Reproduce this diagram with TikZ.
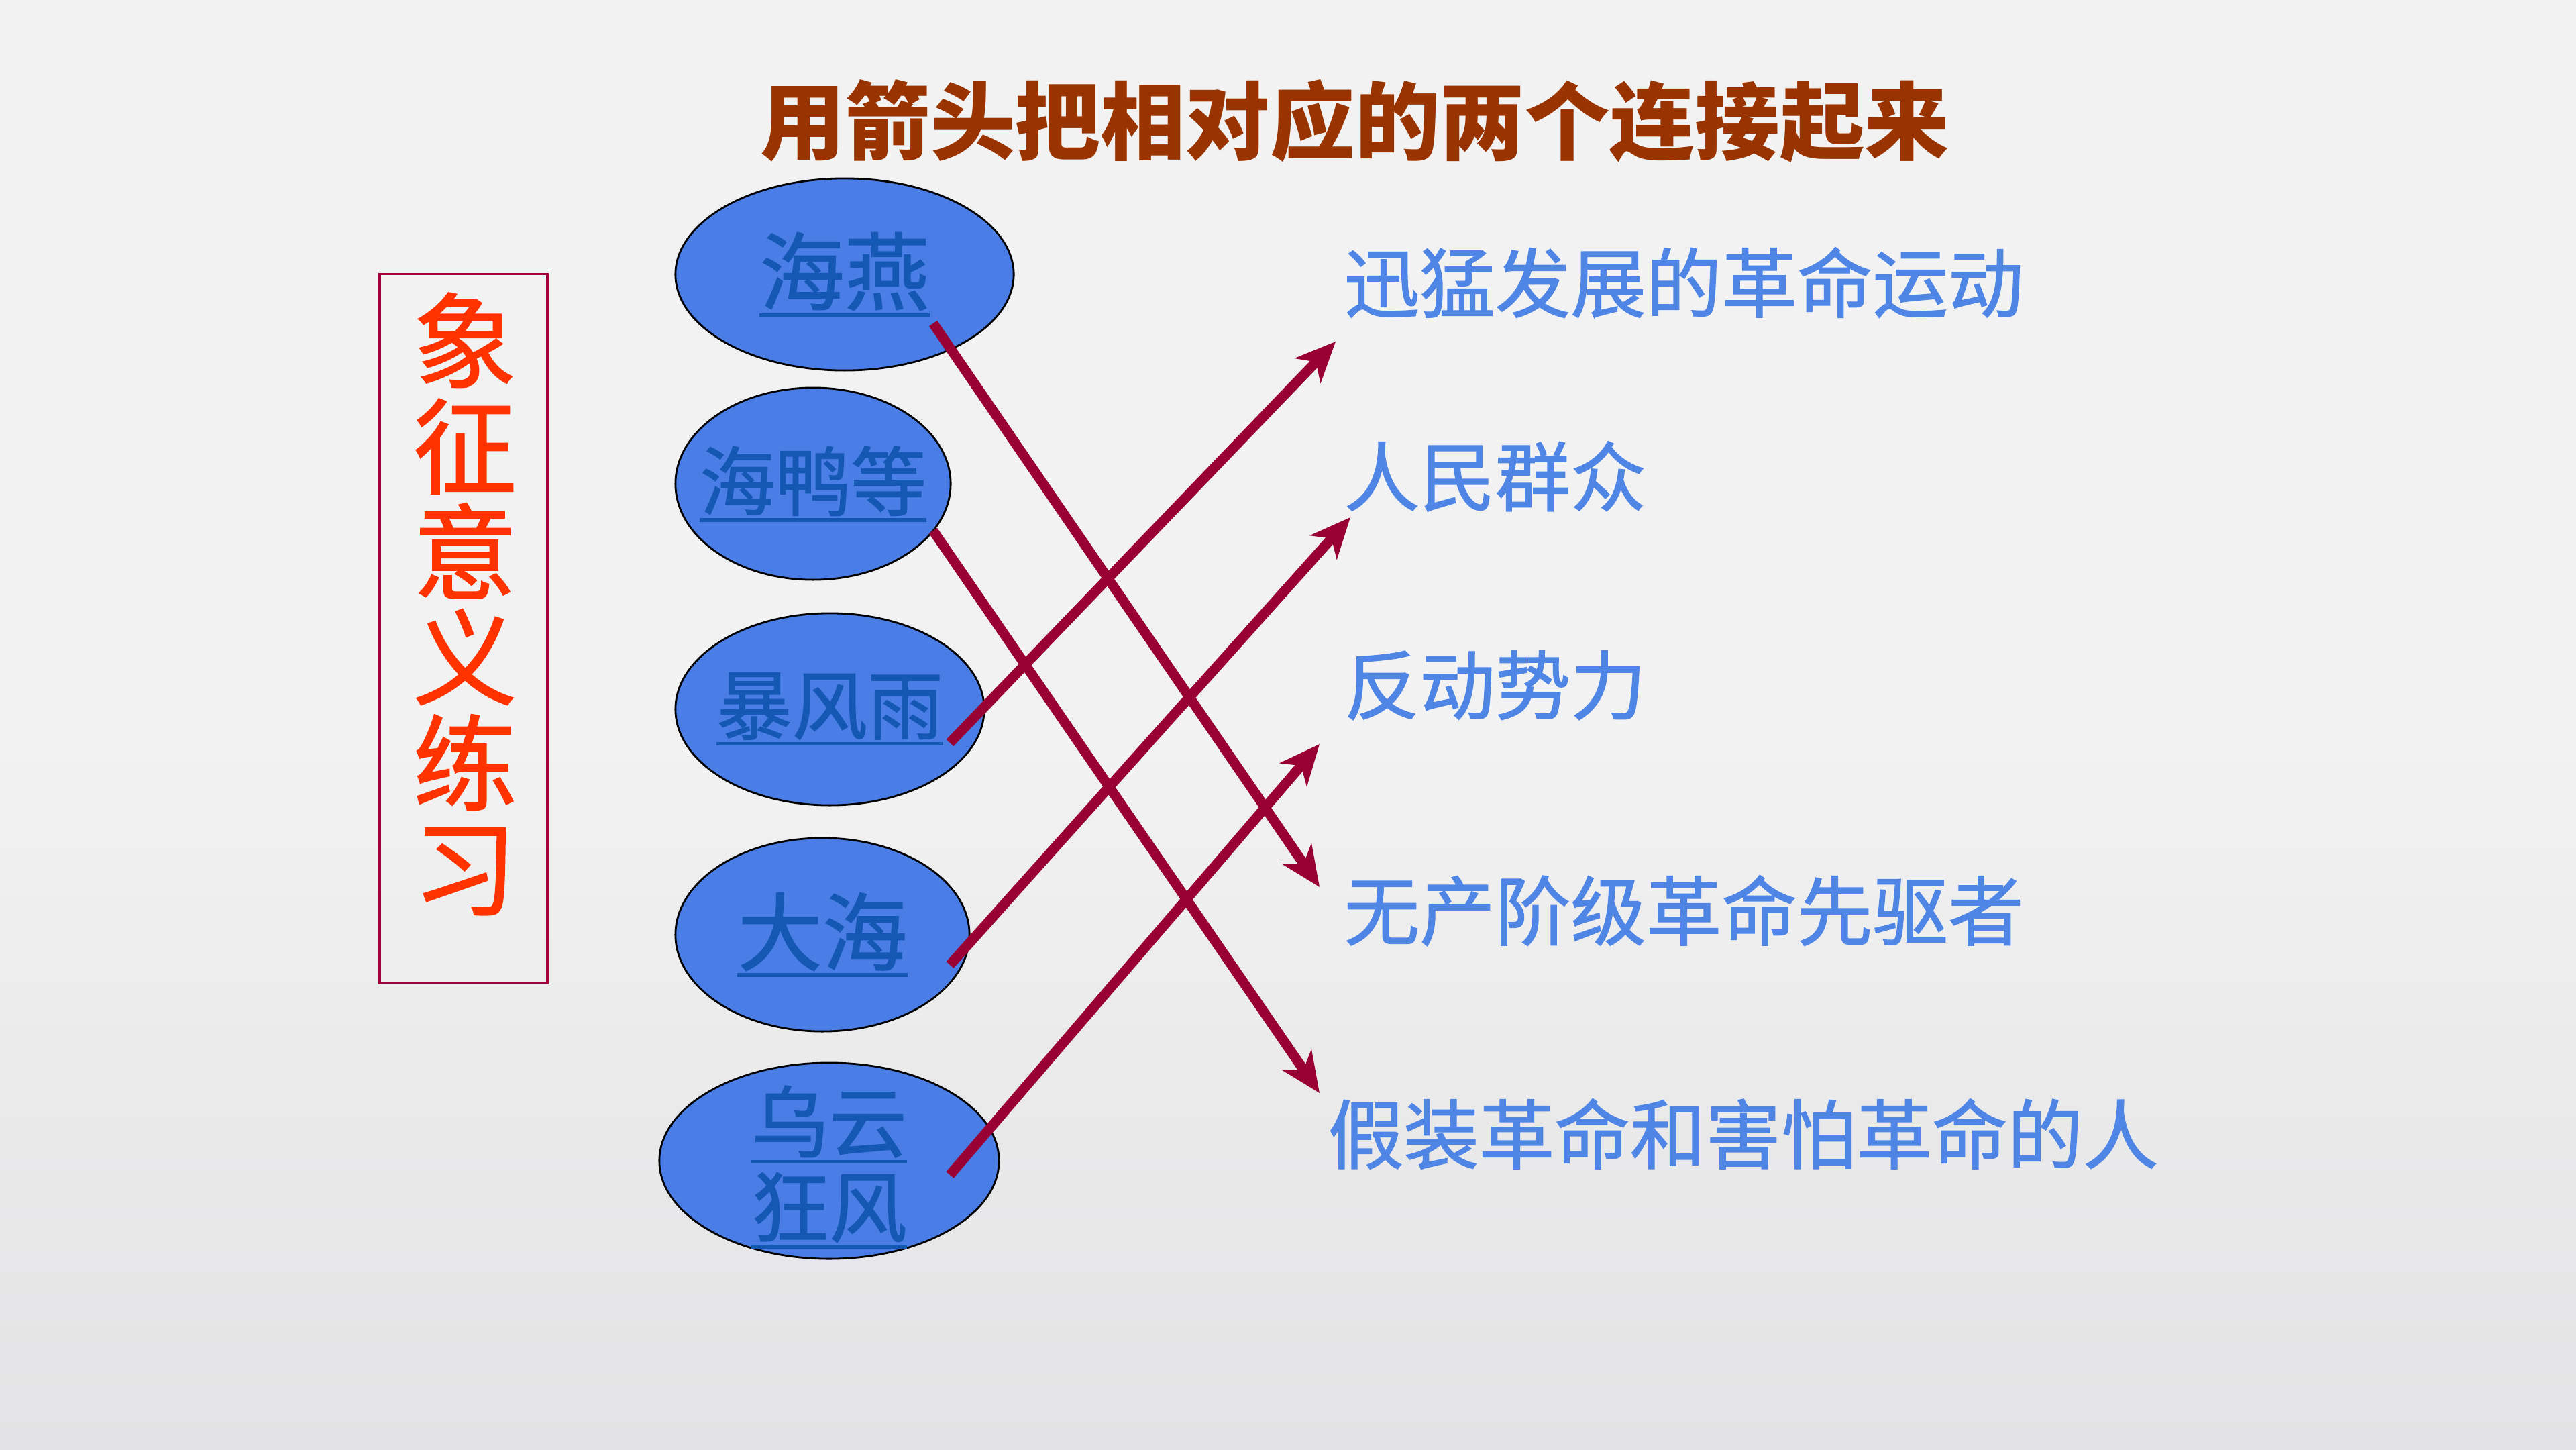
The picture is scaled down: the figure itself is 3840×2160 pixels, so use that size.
\documentclass[tikz,border=0pt]{standalone}
\usepackage{fontspec}
\newfontfamily\cjk{Noto Sans CJK SC}
\newfontfamily\cjkfb{Noto Sans CJK SC}[FakeBold=1.2]
\usetikzlibrary{shapes.geometric,arrows.meta}
\definecolor{bgtop}{HTML}{F2F2F2}
\definecolor{bgbot}{HTML}{E3E2E4}
\definecolor{titlec}{HTML}{993300}
\definecolor{framec}{HTML}{A0003C}
\definecolor{vtc}{HTML}{FF3300}
\definecolor{ellfill}{HTML}{4A7EE6}
\definecolor{elltext}{HTML}{1458B4}
\definecolor{labc}{HTML}{4F86E6}
\definecolor{arrc}{HTML}{990033}
\newcommand\myul[1]{\leavevmode\vtop{\hbox{#1}\kern1pt\hrule height 1.5pt}}
\begin{document}
\begin{tikzpicture}[x=0.01cm,y=-0.01cm,
  oval/.style={ellipse,draw=black,line width=0.8pt,fill=ellfill,inner sep=0pt,text=elltext},
  lab/.style={anchor=west,inner sep=0pt,text=labc,font=\cjkfb\fontsize{32pt}{34pt}\selectfont},
  link/.style={draw=arrc,line width=4.2pt,-{Stealth[length=17pt,width=15pt,inset=5pt]}}]
\path[use as bounding box] (0,0) rectangle (3840,2160);
\fill[bgtop] (0,0) rectangle (3840,1100);
\shade[top color=bgtop,bottom color=bgbot] (0,1099) rectangle (3840,2160);

% title
\node[inner sep=0pt,text=titlec,font=\cjk\bfseries\fontsize{36pt}{38pt}\selectfont] (title) at (2020,181) {用箭头把相对应的两个连接起来};

% left frame and vertical text
\node[draw=framec,line width=1pt,minimum width=2.5cm,minimum height=10.56cm,inner sep=0pt] (frame) at (691,937) {};
\node[inner sep=0pt,text=vtc,align=center,font=\cjkfb\fontsize{44pt}{44.7pt}\selectfont] (vt) at (693,900) {象\\征\\意\\义\\练\\习};

% ellipses
\node[oval,minimum width=5.04cm,minimum height=2.86cm,font=\cjkfb\fontsize{36pt}{38pt}\selectfont] (e1) at (1259,409) {\makebox[0pt]{\myul{海燕}}};
\node[oval,minimum width=4.10cm,minimum height=2.86cm,font=\cjkfb\fontsize{32pt}{34pt}\selectfont] (e2) at (1212,721) {\makebox[0pt]{\myul{海鸭等}}};
\node[oval,minimum width=4.60cm,minimum height=2.86cm,font=\cjkfb\fontsize{32pt}{34pt}\selectfont] (e3) at (1237,1057) {\makebox[0pt]{\myul{暴风雨}}};
\node[oval,minimum width=4.38cm,minimum height=2.88cm,font=\cjkfb\fontsize{36pt}{38pt}\selectfont] (e4) at (1226,1393) {\makebox[0pt]{\myul{大海}}};
\node[oval,minimum width=5.06cm,minimum height=2.92cm,font=\cjkfb\fontsize{33pt}{36pt}\selectfont] (e5) at (1236,1730) {\raisebox{-32pt}[0pt][0pt]{\vbox{\baselineskip=36pt\hbox to 0pt{\hss\myul{乌云}\hss}\hbox to 0pt{\hss\myul{狂风}\hss}}}};

% right labels
\node[lab] (l1) at (2003,421) {迅猛发展的革命运动};
\node[lab] (l2) at (2003,710) {人民群众};
\node[lab] (l3) at (2003,1021) {反动势力};
\node[lab] (l4) at (2003,1357) {无产阶级革命先驱者};
\node[lab] (l5) at (1979,1690) {假装革命和害怕革命的人};

% arrow end points
\coordinate (s1) at (1391,482);  \coordinate (t1) at (1967,1322);
\coordinate (s2) at (1391,791);  \coordinate (t2) at (1967,1629);
\coordinate (s3) at (1416,1107); \coordinate (t3) at (1991,509);
\coordinate (s4) at (1416,1438); \coordinate (t4) at (2013,771);
\coordinate (s5) at (1416,1751); \coordinate (t5) at (1967,1109);

\draw[link] (s1) -- (t1);
\draw[link] (s2) -- (t2);
\draw[link] (s3) -- (t3);
\draw[link] (s4) -- (t4);
\draw[link] (s5) -- (t5);
\end{tikzpicture}
\end{document}
